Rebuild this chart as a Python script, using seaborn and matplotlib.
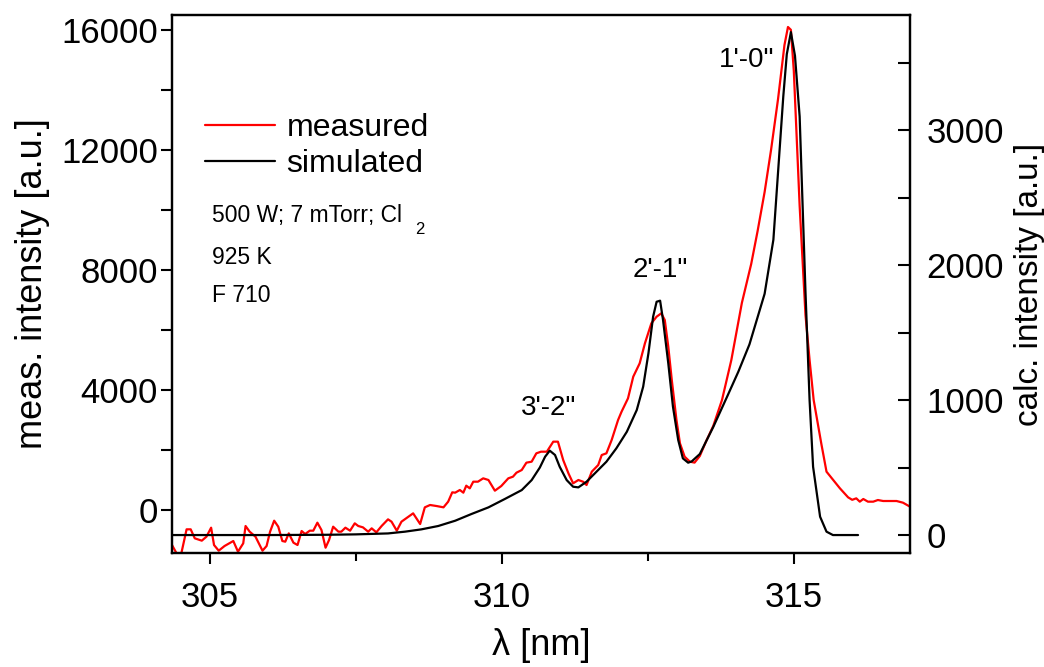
import numpy as np
import pandas as pd
import matplotlib
matplotlib.use("Agg")
import matplotlib.pyplot as plt
from matplotlib.ticker import MultipleLocator
from matplotlib.lines import Line2D
import seaborn as sns

# Measured OH emission band (left axis, a.u.)
meas_wl = [
    304.35, 304.43, 304.50, 304.60, 304.67, 304.74, 304.86, 304.94, 305.02, 305.07,
    305.15, 305.25, 305.40, 305.48, 305.57, 305.61, 305.68, 305.78, 305.90, 305.97,
    306.03, 306.10, 306.17, 306.24, 306.29, 306.35, 306.43, 306.50, 306.57, 306.63,
    306.71, 306.77, 306.84, 306.91, 306.98, 307.04, 307.11, 307.20, 307.25, 307.32,
    307.40, 307.48, 307.54, 307.62, 307.71, 307.77, 307.85, 307.94, 308.05, 308.11,
    308.20, 308.28, 308.40, 308.48, 308.60, 308.68, 308.77, 308.88, 309.00, 309.08,
    309.15, 309.20, 309.28, 309.34, 309.39, 309.45, 309.51, 309.59, 309.68, 309.77,
    309.88, 309.99, 310.11, 310.19, 310.25, 310.34, 310.42, 310.51, 310.59, 310.67,
    310.77, 310.88, 310.96, 311.05, 311.14, 311.22, 311.31, 311.39, 311.45, 311.54,
    311.65, 311.71, 311.79, 311.88, 311.99, 312.05, 312.16, 312.25, 312.36, 312.45,
    312.56, 312.65, 312.73, 312.79, 312.85, 312.91, 312.99, 313.05, 313.13, 313.22,
    313.30, 313.39, 313.50, 313.62, 313.77, 313.93, 314.11, 314.27, 314.38, 314.50,
    314.61, 314.73, 314.84, 314.90, 314.95, 315.00, 315.10, 315.20, 315.27, 315.34,
    315.47, 315.56, 315.79, 315.93, 316.00, 316.07, 316.13, 316.19, 316.27, 316.36,
    316.44, 316.53, 316.64, 316.76, 316.87, 316.99,
]
meas_int = [
    -1167, -1450, -1530, -644, -644, -944, -1022, -889, -589, -1167,
    -1356, -1200, -1033, -1389, -1111, -533, -722, -889, -1356, -1200,
    -722, -356, -556, -1033, -1056, -778, -1089, -1167, -700, -800,
    -689, -689, -422, -667, -1256, -1000, -556, -722, -722, -589,
    -689, -444, -533, -578, -722, -611, -744, -533, -311, -389,
    -689, -389, -222, -111, -467, 89, 167, 133, 89, 278,
    589, 578, 667, 578, 811, 722, 944, 944, 1056, 1000,
    644, 800, 1056, 1111, 1244, 1333, 1578, 1611, 1889, 1944,
    1944, 2278, 2278, 1667, 1222, 889, 1000, 944, 833, 1278,
    1500, 1833, 1889, 2333, 3000, 3278, 3722, 4444, 4889, 5556,
    6222, 6444, 6556, 6333, 5444, 4333, 3000, 2222, 1778, 1611,
    1580, 1800, 2300, 2800, 3667, 5000, 6900, 8200, 9300, 10600,
    12000, 13700, 15500, 16100, 16006, 14635, 10135, 6500, 5000, 3667,
    2222, 1278, 722, 422, 340, 389, 278, 367, 278, 278,
    333, 300, 300, 300, 244, 111,
]

# Simulated spectrum (right axis, a.u.)
sim_wl = [
    304.35, 305.00, 306.00, 307.00, 307.50, 308.05, 308.34, 308.62, 308.91, 309.20,
    309.48, 309.77, 310.05, 310.34, 310.51, 310.65, 310.74, 310.82, 310.91, 310.99,
    311.11, 311.22, 311.31, 311.45, 311.62, 311.79, 311.96, 312.14, 312.31, 312.42,
    312.51, 312.59, 312.65, 312.71, 312.76, 312.85, 312.93, 313.02, 313.10, 313.19,
    313.25, 313.39, 313.62, 313.87, 314.05, 314.24, 314.50, 314.65, 314.75, 314.82,
    314.88, 314.95, 315.02, 315.10, 315.20, 315.27, 315.33, 315.45, 315.56, 315.67,
    315.80, 316.10,
]
sim_int = [
    0, 0, 0, 2, 5, 12, 25, 42, 67, 106,
    156, 205, 267, 333, 407, 500, 580, 625, 593, 506,
    407, 358, 353, 395, 469, 543, 642, 765, 926, 1099,
    1346, 1617, 1728, 1736, 1593, 1272, 951, 704, 568, 536,
    545, 600, 800, 1037, 1210, 1412, 1787, 2187, 2812, 3250,
    3562, 3725, 3550, 3100, 1800, 1000, 506, 136, 25, 0,
    0, 0,
]

band_labels = ["3'-2\"", "2'-1\"", "1'-0\""]
band_pos = [(310.80, 3400), (312.72, 8000), (314.20, 15000)]
conditions = ["500 W; 7 mTorr; Cl", "925 K", "F 710"]

measured = pd.DataFrame({"wl": meas_wl, "I": meas_int})
simulated = pd.DataFrame({"wl": sim_wl, "I": sim_int})

sns.set_theme(style="ticks")
plt.rcParams["font.family"] = ["Liberation Sans", "DejaVu Sans"]
plt.rcParams.update({
    "axes.linewidth": 1.6,
    "text.color": "black",
    "axes.labelcolor": "black",
    "axes.edgecolor": "black",
    "xtick.color": "black",
    "ytick.color": "black",
})

fig = plt.figure(figsize=(10.44, 6.67), dpi=100)
ax = fig.add_axes([172 / 1044, 1 - 553 / 667, (910 - 172) / 1044, (553 - 15) / 667])
ax2 = ax.twinx()

sns.lineplot(data=measured, x="wl", y="I", ax=ax, color="#ff0000", lw=1.6,
             sort=False, estimator=None)
sns.lineplot(data=simulated, x="wl", y="I", ax=ax2, color="black", lw=1.6,
             sort=False, estimator=None)

ax.set_xlim(304.35, 316.99)
ax.set_ylim(-1433, 16500)
ax2.set_ylim(-133, 3852)

ax.xaxis.set_major_locator(MultipleLocator(5))
ax.xaxis.set_minor_locator(MultipleLocator(2.5))
ax.yaxis.set_major_locator(MultipleLocator(4000))
ax.yaxis.set_minor_locator(MultipleLocator(2000))
ax2.yaxis.set_major_locator(MultipleLocator(1000))
ax2.yaxis.set_minor_locator(MultipleLocator(500))

fs_tick = 25
ax.tick_params(axis="x", which="major", direction="out", length=8, width=1.5,
               labelsize=fs_tick, pad=12)
ax.tick_params(axis="x", which="minor", direction="out", length=6, width=1.5)
ax.tick_params(axis="y", which="major", direction="out", length=8, width=1.5,
               labelsize=fs_tick, pad=2)
ax.tick_params(axis="y", which="minor", direction="out", length=8, width=1.5)
ax2.tick_params(axis="y", which="major", direction="in", length=9, width=1.5,
                labelsize=fs_tick, pad=12)
ax2.tick_params(axis="y", which="minor", direction="in", length=9, width=1.5)

for a in (ax, ax2):
    for s in a.spines.values():
        s.set_visible(True)
        s.set_linewidth(1.6)
        s.set_color("black")

ax.set_xlabel("λ [nm]", fontsize=26, labelpad=10)
ax.set_ylabel("meas. intensity [a.u.]", fontsize=26, labelpad=8)
ax2.set_ylabel("calc. intensity [a.u.]", fontsize=24, labelpad=7)

# Legend
handles = [Line2D([], [], color="#ff0000", lw=1.6), Line2D([], [], color="black", lw=1.6)]
ax.legend(handles, ["measured", "simulated"], loc="upper left",
          bbox_to_anchor=(205 / 1044, 1 - 113 / 667), bbox_transform=fig.transFigure,
          frameon=False, fontsize=23, handlelength=2.2, handletextpad=0.35,
          labelspacing=0.2, borderpad=0, borderaxespad=0)

# Discharge conditions
fig.text(212 / 1044, 1 - 215 / 667, conditions[0], fontsize=16.5, va="center", ha="left")
fig.text(415 / 1044, 1 - 229 / 667, "2", fontsize=12, va="center", ha="left")
fig.text(212 / 1044, 1 - 258 / 667, conditions[1], fontsize=16.5, va="center", ha="left")
fig.text(212 / 1044, 1 - 295 / 667, conditions[2], fontsize=16.5, va="center", ha="left")

# Vibrational band assignments
for lab, (x, y) in zip(band_labels, band_pos):
    ax.text(x, y, lab, fontsize=20, ha="center", va="center")

fig.savefig("out.png", dpi=100)
